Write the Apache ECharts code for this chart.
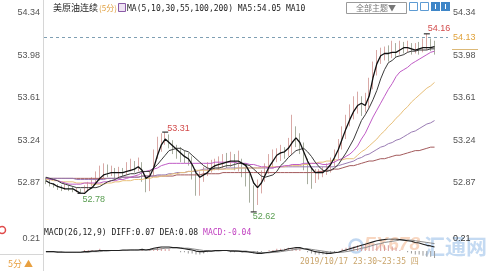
<!DOCTYPE html>
<html><head><meta charset="utf-8">
<script src="https://cdn.jsdelivr.net/npm/echarts@6/dist/echarts.min.js"></script>
<style>html,body{margin:0;padding:0;background:#fff}#c{width:500px;height:271px}</style>
</head><body><div id="c"></div>
<script>
const totalSlots = 105;
const lastBarTime = '2019/10/17 23:30~23:35 四';
const yTickLabels = ['52.87','53.24','53.61','53.98','54.34'];
const macdTickLabels = ['0.21'];
const latestPrice = 54.13;

const opens = [52.90,52.89,52.86,52.84,52.83,52.82,52.83,52.81,52.80,52.80,
 52.79,52.82,52.85,52.88,52.92,52.95,52.97,52.96,52.98,52.95,
 52.97,52.96,53.00,53.02,52.99,53.04,52.92,52.86,52.95,53.12,
 53.22,53.26,53.28,53.22,53.18,53.15,53.12,53.10,53.08,52.98,
 52.90,52.93,52.98,53.02,53.03,53.04,53.05,53.07,53.06,53.08,
 53.05,53.06,53.00,52.92,52.80,52.72,52.82,52.94,53.00,53.07,
 53.10,53.12,53.15,53.14,53.22,53.30,53.28,53.20,53.05,52.98,
 52.93,52.95,52.96,52.98,53.00,53.05,53.12,53.20,53.30,53.40,
 53.48,53.55,53.58,53.52,53.56,53.72,53.85,53.95,53.99,54.00,
 53.98,54.02,54.01,54.05,54.04,54.06,54.02,54.04,54.03,54.06,
 54.08,54.05];
const closes = [52.89,52.86,52.84,52.83,52.82,52.83,52.81,52.80,52.80,52.79,
 52.82,52.85,52.88,52.92,52.95,52.97,52.96,52.98,52.95,52.97,
 52.96,53.00,53.02,52.99,53.04,52.92,52.86,52.95,53.12,53.22,
 53.26,53.28,53.22,53.18,53.15,53.12,53.10,53.08,52.98,52.90,
 52.93,52.98,53.02,53.03,53.04,53.05,53.07,53.06,53.08,53.05,
 53.06,53.00,52.92,52.80,52.72,52.82,52.94,53.00,53.07,53.10,
 53.12,53.15,53.14,53.22,53.30,53.28,53.20,53.05,52.98,52.93,
 52.95,52.96,52.98,53.00,53.05,53.12,53.20,53.30,53.40,53.48,
 53.55,53.58,53.52,53.56,53.72,53.85,53.95,53.99,54.00,53.98,
 54.02,54.01,54.05,54.04,54.06,54.02,54.04,54.03,54.06,54.08,
 54.05,54.04];
const lows = [52.86,52.84,52.83,52.81,52.80,52.81,52.80,52.79,52.79,52.78,
 52.79,52.81,52.84,52.86,52.89,52.91,52.92,52.93,52.91,52.92,
 52.93,52.94,52.97,52.96,52.97,52.88,52.79,52.80,52.93,53.08,
 53.14,53.20,53.17,53.12,53.08,53.05,53.04,53.02,52.90,52.76,
 52.76,52.88,52.93,52.96,52.98,52.98,53.00,53.00,53.01,52.98,
 52.97,52.92,52.84,52.70,52.62,52.68,52.78,52.88,52.95,53.00,
 53.05,53.06,53.08,53.10,53.12,53.18,53.12,52.98,52.86,52.82,
 52.87,52.90,52.92,52.94,52.96,53.01,53.08,53.16,53.25,53.36,
 53.42,53.47,53.45,53.48,53.52,53.68,53.80,53.90,53.93,53.92,
 53.95,53.96,53.98,53.99,54.00,53.98,53.99,53.98,54.00,54.02,
 54.01,53.98];
const highs = [52.92,52.90,52.87,52.86,52.85,52.86,52.85,52.84,52.83,52.82,
 52.85,52.88,52.92,52.97,53.02,53.04,53.03,53.02,53.00,53.01,
 53.00,53.05,53.08,53.06,53.09,53.05,52.94,52.98,53.16,53.27,
 53.30,53.31,53.29,53.24,53.20,53.18,53.15,53.13,53.10,52.99,
 52.97,53.01,53.05,53.07,53.08,53.10,53.12,53.13,53.14,53.12,
 53.15,53.08,53.02,52.95,52.85,52.90,52.98,53.04,53.12,53.16,
 53.17,53.20,53.18,53.26,53.46,53.36,53.30,53.22,53.08,53.00,
 52.99,52.99,53.01,53.04,53.09,53.16,53.25,53.36,53.46,53.55,
 53.62,53.66,53.62,53.65,53.78,53.92,54.02,54.04,54.05,54.06,
 54.10,54.08,54.10,54.09,54.10,54.08,54.08,54.09,54.12,54.16,
 54.12,54.10];
const ma5 = [52.89,52.87,52.86,52.84,52.83,52.82,52.82,52.82,52.80,52.78,
 52.78,52.81,52.83,52.87,52.91,52.94,52.95,52.96,52.96,52.96,
 52.96,52.97,52.98,52.99,53.01,52.98,52.91,52.93,53.00,53.11,
 53.20,53.25,53.22,53.19,53.16,53.13,53.10,53.08,53.03,52.96,
 52.92,52.94,52.96,53.00,53.02,53.03,53.04,53.05,53.06,53.06,
 53.06,53.04,53.02,52.96,52.87,52.83,52.87,52.94,53.01,53.06,
 53.11,53.13,53.14,53.17,53.22,53.26,53.22,53.14,53.06,53.00,
 52.96,52.96,52.96,52.99,53.03,53.09,53.16,53.25,53.34,53.42,
 53.49,53.54,53.56,53.54,53.62,53.78,53.90,53.97,53.99,53.99,
 54.00,54.00,54.02,54.04,54.04,54.03,54.02,54.03,54.04,54.04,
 54.04,54.05];
const ma10 = [52.92,52.91,52.90,52.89,52.87,52.86,52.85,52.84,52.83,52.83,
 52.83,52.83,52.83,52.83,52.84,52.86,52.88,52.89,52.90,52.92,
 52.93,52.94,52.95,52.95,52.96,52.97,52.97,52.97,53.00,53.03,
 53.07,53.11,53.15,53.16,53.17,53.17,53.15,53.14,53.11,53.08,
 53.05,53.02,53.00,52.99,53.00,53.00,53.01,53.02,53.02,53.03,
 53.04,53.04,53.03,53.02,52.99,52.96,52.93,52.92,52.93,52.94,
 52.97,53.02,53.05,53.09,53.12,53.15,53.16,53.17,53.14,53.10,
 53.05,53.01,52.98,52.97,52.98,53.00,53.03,53.08,53.13,53.19,
 53.25,53.33,53.41,53.46,53.52,53.59,53.67,53.77,53.85,53.91,
 53.93,53.96,53.97,53.98,54.00,54.01,54.01,54.02,54.02,54.02,
 54.03,54.03];
const ma30 = [52.92,52.90,52.90,52.89,52.88,52.87,52.86,52.86,52.86,52.86,
 52.87,52.87,52.87,52.87,52.87,52.88,52.88,52.89,52.89,52.90,
 52.90,52.91,52.92,52.93,52.94,52.96,52.97,52.98,52.99,53.00,
 53.02,53.03,53.04,53.04,53.04,53.04,53.04,53.04,53.04,53.04,
 53.04,53.04,53.04,53.04,53.05,53.05,53.05,53.05,53.05,53.05,
 53.04,53.04,53.04,53.03,53.03,53.02,53.01,53.01,53.00,53.00,
 53.01,53.01,53.02,53.02,53.03,53.03,53.03,53.04,53.04,53.04,
 53.04,53.04,53.03,53.03,53.04,53.05,53.07,53.08,53.10,53.12,
 53.15,53.19,53.25,53.30,53.37,53.44,53.50,53.56,53.62,53.68,
 53.73,53.79,53.83,53.85,53.87,53.90,53.92,53.94,53.96,53.98,
 54.00,54.01];
const ma55 = [52.90,52.90,52.89,52.89,52.88,52.88,52.88,52.88,52.87,52.87,
 52.87,52.87,52.86,52.86,52.86,52.86,52.87,52.87,52.88,52.88,
 52.89,52.89,52.89,52.90,52.90,52.90,52.91,52.91,52.92,52.92,
 52.93,52.93,52.94,52.95,52.95,52.96,52.96,52.97,52.97,52.98,
 52.98,52.98,52.98,52.98,52.99,52.99,52.99,52.99,52.99,52.99,
 53.00,53.00,53.00,53.00,53.00,53.00,53.00,53.01,53.01,53.01,
 53.01,53.01,53.01,53.02,53.02,53.02,53.02,53.03,53.03,53.04,
 53.04,53.05,53.05,53.06,53.06,53.07,53.07,53.07,53.08,53.08,
 53.08,53.11,53.14,53.16,53.19,53.22,53.25,53.29,53.32,53.36,
 53.39,53.43,53.46,53.50,53.53,53.57,53.60,53.63,53.66,53.69,
 53.71,53.74];
const ma100 = [52.91,52.91,52.91,52.91,52.91,52.91,52.91,52.91,52.90,52.90,
 52.90,52.90,52.90,52.90,52.90,52.90,52.91,52.91,52.91,52.91,
 52.92,52.92,52.92,52.92,52.92,52.93,52.93,52.93,52.93,52.94,
 52.94,52.94,52.95,52.95,52.96,52.96,52.96,52.97,52.97,52.97,
 52.98,52.99,52.99,52.99,52.99,52.99,52.99,53.00,53.00,53.00,
 53.00,53.00,53.00,53.00,53.00,53.00,53.00,53.00,53.00,53.00,
 53.01,53.01,53.01,53.01,53.01,53.01,53.01,53.01,53.01,53.01,
 53.01,53.01,53.01,53.01,53.01,53.01,53.02,53.03,53.04,53.05,
 53.06,53.08,53.09,53.11,53.12,53.14,53.16,53.18,53.19,53.21,
 53.22,53.24,53.25,53.27,53.29,53.31,53.32,53.34,53.36,53.38,
 53.39,53.41];
const ma200 = [52.91,52.91,52.91,52.91,52.91,52.91,52.91,52.91,52.91,52.91,
 52.91,52.91,52.91,52.91,52.91,52.91,52.91,52.91,52.91,52.91,
 52.92,52.92,52.92,52.92,52.92,52.93,52.93,52.93,52.93,52.93,
 52.93,52.93,52.93,52.93,52.94,52.94,52.94,52.94,52.94,52.94,
 52.94,52.95,52.95,52.95,52.95,52.95,52.96,52.96,52.96,52.96,
 52.96,52.96,52.96,52.96,52.96,52.96,52.96,52.96,52.96,52.96,
 52.96,52.96,52.96,52.96,52.96,52.96,52.96,52.96,52.96,52.96,
 52.96,52.97,52.97,52.98,52.98,52.99,52.99,53.00,53.01,53.02,
 53.02,53.03,53.04,53.05,53.06,53.06,53.07,53.08,53.08,53.09,
 53.10,53.11,53.11,53.12,53.13,53.14,53.15,53.15,53.16,53.17,
 53.18,53.18];
const diff = [-0.01,-0.01,-0.01,-0.02,-0.02,-0.02,-0.02,-0.02,-0.02,-0.02,
 -0.01,-0.01,0.00,0.00,0.01,0.01,0.01,0.01,0.01,0.01,
 0.02,0.02,0.02,0.02,0.02,0.03,0.02,0.03,0.05,0.06,
 0.07,0.07,0.07,0.06,0.06,0.05,0.04,0.03,0.02,0.00,
 -0.01,-0.01,0.00,0.00,0.01,0.01,0.01,0.01,0.00,0.00,
 0.00,-0.01,-0.01,-0.02,-0.03,-0.04,-0.04,-0.03,-0.02,-0.01,
 0.00,0.01,0.02,0.04,0.05,0.06,0.06,0.04,0.03,0.01,
 -0.01,-0.02,-0.03,-0.04,-0.04,-0.03,-0.02,0.00,0.02,0.04,
 0.06,0.08,0.10,0.12,0.14,0.16,0.18,0.19,0.20,0.21,
 0.21,0.21,0.20,0.19,0.18,0.17,0.15,0.14,0.12,0.10,
 0.09,0.07];
const dea = [-0.01,-0.01,-0.01,-0.01,-0.01,-0.02,-0.02,-0.02,-0.02,-0.02,
 -0.02,-0.02,-0.01,-0.01,-0.01,0.00,0.00,0.01,0.01,0.01,
 0.01,0.01,0.02,0.02,0.02,0.02,0.02,0.02,0.03,0.03,
 0.04,0.05,0.05,0.06,0.06,0.06,0.05,0.05,0.04,0.03,
 0.02,0.01,0.01,0.00,0.00,0.00,0.01,0.01,0.01,0.01,
 0.00,0.00,0.00,-0.01,-0.01,-0.02,-0.03,-0.03,-0.03,-0.02,
 -0.02,-0.01,0.00,0.01,0.02,0.03,0.04,0.04,0.04,0.03,
 0.02,0.01,0.00,-0.01,-0.02,-0.02,-0.02,-0.02,-0.01,0.00,
 0.02,0.03,0.05,0.06,0.08,0.10,0.12,0.13,0.15,0.16,
 0.17,0.18,0.19,0.19,0.19,0.19,0.18,0.17,0.16,0.15,
 0.14,0.13];
const macdHist = [0,0,0,-0.02,-0.02,0,0,0,0,0,
 0.02,0.02,0.02,0.02,0.04,0.02,0.02,0,0,0,
 0.02,0.02,0,0,0,0.02,0,0.02,0.04,0.06,
 0.06,0.04,0.04,0,0,-0.02,-0.02,-0.04,-0.04,-0.06,
 -0.06,-0.04,-0.02,0,0.02,0.02,0,0,-0.02,-0.02,
 0,-0.02,-0.02,-0.02,-0.04,-0.04,-0.02,0,0.02,0.02,
 0.04,0.04,0.04,0.06,0.06,0.06,0.04,0,-0.02,-0.04,
 -0.06,-0.06,-0.06,-0.06,-0.04,-0.02,0,0.04,0.06,0.08,
 0.08,0.10,0.10,0.12,0.12,0.12,0.12,0.12,0.10,0.10,
 0.08,0.06,0.02,0,-0.02,-0.04,-0.06,-0.06,-0.08,-0.10,
 -0.10,-0.12];
const macdReadout = {diff: '0.07', dea: '0.08', macd: '-0.04'};
const markHighIdx = [99, 31];
const markLowIdx = [9, 54];

// categories: 5-minute slots (hidden on the axis)
const categories = [];
for (let i = 0; i < totalSlots; i++) categories.push('k' + i);

const priceMin = 52.5025, priceMax = 54.34;
const kdata = opens.map((o, i) => [o, closes[i], lows[i], highs[i]]);

const chart = echarts.init(document.getElementById('c'), null, {renderer: 'canvas'});
const labFont = {fontFamily: 'Liberation Sans', fontSize: 9, color: '#555'};
const mono = 'DejaVu Sans Mono';

function labelAxis(gridIndex, pos, max, labels, margin, color) {
  return {
    gridIndex, type: 'value', min: 0, max: max, interval: 1, position: pos,
    axisLine: {show: false}, axisTick: {show: false}, splitLine: {show: false},
    axisLabel: Object.assign({}, labFont, {margin: margin, color: color || labFont.color,
      formatter: v => (v >= 1 ? labels[Math.round(v) - 1] : '')})
  };
}

const hiOffsets = [[-7, -5], [-6, -4]];
const loOffsets = [[-6, 6], [-9, 5]];
const markData = [];
markHighIdx.forEach((idx, k) => markData.push({
  coord: [idx, highs[idx]], symbol: 'rect', symbolSize: [6, 1.2],
  itemStyle: {color: '#333'},
  label: {show: true, position: 'right', offset: hiOffsets[k], formatter: highs[idx].toFixed(2),
    color: '#d24b4b', fontSize: 9, fontFamily: 'Liberation Sans'}
}));
markLowIdx.forEach((idx, k) => markData.push({
  coord: [idx, lows[idx]], symbol: 'rect', symbolSize: [6, 1.2],
  itemStyle: {color: '#333'},
  label: {show: true, position: 'right', offset: loOffsets[k], formatter: lows[idx].toFixed(2),
    color: '#5a9e52', fontSize: 9, fontFamily: 'Liberation Sans'}
}));

function maLine(name, data, color, width) {
  return {name, type: 'line', xAxisIndex: 0, yAxisIndex: 0, data, showSymbol: false,
    lineStyle: {color, width}, itemStyle: {color}, silent: true, z: 3};
}

function txt(x, y, text, font, fill, align) {
  return {type: 'text', x, y, silent: true, z: 100,
    style: {text, font, fill, align: align || 'left', verticalAlign: 'middle',
      textAlign: align || 'left', textVerticalAlign: 'middle'}};
}

const maText = 'MA(5,10,30,55,100,200) MA5:' + ma5[ma5.length - 1].toFixed(2) + ' MA10';
const macdText1 = 'MACD(26,12,9) DIFF:' + macdReadout.diff + ' DEA:' + macdReadout.dea + ' ';
const macdText2 = 'MACD:' + macdReadout.macd;

const option = {
  animation: false,
  backgroundColor: '#ffffff',
  grid: [
    {left: 44, top: 13, width: 404, height: 212.5},
    {left: 44, top: 239, width: 404, height: 19}
  ],
  xAxis: [
    {type: 'category', gridIndex: 0, data: categories, boundaryGap: true, show: false},
    {type: 'category', gridIndex: 1, data: categories, boundaryGap: true, show: false}
  ],
  yAxis: [
    {gridIndex: 0, type: 'value', min: priceMin, max: priceMax, show: false},
    labelAxis(0, 'left', 5, yTickLabels, 4),
    labelAxis(0, 'right', 5, yTickLabels, 5),
    {gridIndex: 1, type: 'value', min: -0.12, max: 0.21, show: false},
    labelAxis(1, 'left', 1, macdTickLabels, 4),
    labelAxis(1, 'right', 1, macdTickLabels, 5, '#333')
  ],
  series: [
    {
      type: 'candlestick', xAxisIndex: 0, yAxisIndex: 0, data: kdata, barWidth: 1,
      itemStyle: {color: '#d9a9a6', color0: '#a7ad9e', borderColor: '#d9a9a6', borderColor0: '#a7ad9e', borderWidth: 1},
      markPoint: {data: markData, silent: true, animation: false},
      markLine: {
        silent: true, symbol: ['none', 'none'],
        data: [{yAxis: latestPrice}],
        lineStyle: {color: '#7f9fb3', type: [3, 3], width: 1},
        label: {show: true, position: 'end', distance: 5, formatter: latestPrice.toFixed(2),
          color: '#e0a23a', fontSize: 9, fontFamily: 'Liberation Sans'}
      },
      z: 2
    },
    maLine('MA200', ma200, '#a35a5c', 1),
    maLine('MA100', ma100, '#9a7cb4', 1),
    maLine('MA55', ma55, '#e8c07a', 1),
    maLine('MA30', ma30, '#c05cc6', 1),
    maLine('MA10', ma10, '#3a3a3a', 1),
    maLine('MA5', ma5, '#111111', 1.3),
    {
      name: 'MACD', type: 'bar', xAxisIndex: 1, yAxisIndex: 3, data: macdHist, barWidth: 1,
      itemStyle: {color: p => (p.value >= 0 ? '#d99a9a' : '#9a9a9a')}, silent: true
    },
    {name: 'DEA', type: 'line', xAxisIndex: 1, yAxisIndex: 3, data: dea, showSymbol: false,
      lineStyle: {color: '#8a8a8a', width: 1}, silent: true},
    {name: 'DIFF', type: 'line', xAxisIndex: 1, yAxisIndex: 3, data: diff, showSymbol: false,
      lineStyle: {color: '#222', width: 1.1}, silent: true}
  ],
  graphic: [
    {type: 'line', silent: true, shape: {x1: 43.5, y1: 0, x2: 43.5, y2: 271}, style: {stroke: '#d6d6d6', lineWidth: 1}},
    {type: 'line', silent: true, shape: {x1: 0, y1: 254.5, x2: 43.5, y2: 254.5}, style: {stroke: '#d6d6d6', lineWidth: 1}},
    txt(53, 8, '美原油连续', '9px "Noto Sans CJK SC"', '#222'),
    txt(99, 8, '(5分)', '8px "Noto Sans CJK SC"', '#e0a040'),
    {type: 'rect', silent: true, shape: {x: 118.5, y: 3.5, width: 7, height: 8}, style: {fill: '#efe3f4', stroke: '#8a5aa6', lineWidth: 1}},
    txt(127, 8.5, maText, '8px "' + mono + '"', '#222'),
    {type: 'rect', silent: true, shape: {x: 346.5, y: 2.5, width: 60, height: 11}, style: {fill: '#fff', stroke: '#9a9a9a', lineWidth: 1}},
    txt(376, 8, '全部主题▼', '8px "Noto Sans CJK SC"', '#777', 'center'),
    {type: 'rect', silent: true, shape: {x: 409.5, y: 2.5, width: 8, height: 8}, style: {fill: '#fff', stroke: '#5d9bd3', lineWidth: 1}},
    {type: 'rect', silent: true, shape: {x: 420.5, y: 2.5, width: 8, height: 8}, style: {fill: '#fff', stroke: '#5d9bd3', lineWidth: 1}},
    {type: 'rect', silent: true, shape: {x: 431, y: 2, width: 9, height: 9}, style: {fill: '#3f86c8'}},
    {type: 'rect', silent: true, shape: {x: 441, y: 2, width: 9, height: 9}, style: {fill: '#3f86c8'}},
    {type: 'line', silent: true, shape: {x1: 435.5, y1: 4, x2: 435.5, y2: 9}, style: {stroke: '#fff', lineWidth: 1}},
    {type: 'line', silent: true, shape: {x1: 445.5, y1: 4, x2: 445.5, y2: 9}, style: {stroke: '#fff', lineWidth: 1}},
    {type: 'line', silent: true, shape: {x1: 452, y1: 49.5, x2: 478, y2: 49.5}, style: {stroke: '#dcb978', lineWidth: 1}},
    {type: 'circle', silent: true, shape: {cx: 2, cy: 230, r: 3.5}, style: {fill: '#fff', stroke: '#e04a4a', lineWidth: 1.5}},
    txt(44, 233, macdText1, '8px "' + mono + '"', '#222'),
    txt(44 + macdText1.length * 4.82, 233, macdText2, '8px "' + mono + '"', '#c040c0'),
    txt(8, 264, '5分 ▲', '9px "Noto Sans CJK SC"', '#e8a040'),
    txt(300, 262, lastBarTime, '8px "' + mono + '", "Noto Sans CJK SC"', '#c9a46a'),
    {type: 'circle', silent: true, shape: {cx: 356, cy: 246, r: 6.5}, style: {fill: 'none', stroke: '#8db6e6', lineWidth: 2.5, opacity: 0.55}},
    {type: 'text', silent: true, x: 364, y: 245, style: {text: 'FX678', font: 'italic bold 19px "Liberation Sans"', fill: '#f2b48c', opacity: 0.55, verticalAlign: 'middle', textVerticalAlign: 'middle'}},
    {type: 'text', silent: true, x: 424, y: 246, style: {text: '汇通网', font: 'bold 21px "Noto Sans CJK SC"', fill: '#9cc2ea', opacity: 0.6, verticalAlign: 'middle', textVerticalAlign: 'middle'}}
  ]
};
chart.setOption(option);
</script>
</body></html>
